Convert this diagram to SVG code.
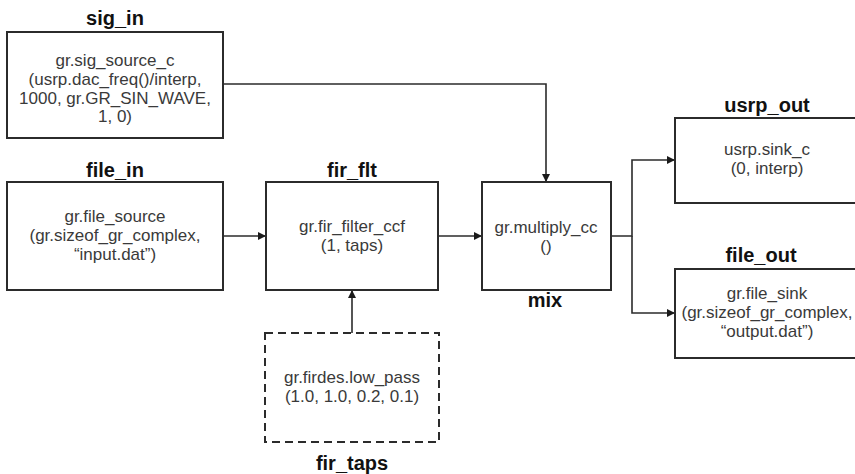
<svg xmlns="http://www.w3.org/2000/svg" width="855" height="474" viewBox="0 0 855 474">
  <style>
    .box { fill: #ffffff; stroke: #2b2b2b; stroke-width: 2; }
    .dash { stroke-dasharray: 8 5; }
    .body { font-family: "Liberation Sans", Arial, sans-serif; font-size: 17px; fill: #3a3a3a; text-anchor: middle; }
    .name { font-family: "Liberation Sans", Arial, sans-serif; font-size: 20px; font-weight: bold; fill: #111111; text-anchor: middle; }
    .wire { fill: none; stroke: #2b2b2b; stroke-width: 1.6; marker-end: url(#arrow); }
  </style>
  <defs>
    <marker id="arrow" viewBox="0 0 10 10" refX="10" refY="5" markerWidth="8" markerHeight="8" markerUnits="userSpaceOnUse" orient="auto">
      <path d="M0,0 L10,5 L0,10 Z" fill="#1a1a1a"/>
    </marker>
  </defs>
  <rect width="855" height="474" fill="#ffffff"/>

  <g id="connectors">
    <path class="wire" d="M223,84 H546 V182"/>
    <path class="wire" d="M223,236 H266"/>
    <path class="wire" d="M438,236 H482"/>
    <path class="wire" d="M611,236 H632 V160 H675"/>
    <path class="wire" d="M632,236 V313 H675"/>
    <path class="wire" d="M352,333 V290"/>
  </g>

  <g id="sig_in">
    <text class="name" x="115" y="25">sig_in</text>
    <rect class="box" x="7" y="32" width="216" height="106"/>
    <text class="body" x="115" y="66">gr.sig_source_c</text>
    <text class="body" x="115" y="85">(usrp.dac_freq()/interp,</text>
    <text class="body" x="115" y="104">1000, gr.GR_SIN_WAVE,</text>
    <text class="body" x="115" y="122">1, 0)</text>
  </g>

  <g id="file_in">
    <text class="name" x="115" y="177">file_in</text>
    <rect class="box" x="7" y="182" width="216" height="108"/>
    <text class="body" x="115" y="222">gr.file_source</text>
    <text class="body" x="115" y="241">(gr.sizeof_gr_complex,</text>
    <text class="body" x="115" y="260">“input.dat”)</text>
  </g>

  <g id="fir_flt">
    <text class="name" x="352" y="177">fir_flt</text>
    <rect class="box" x="266" y="182" width="172" height="108"/>
    <text class="body" x="352" y="232">gr.fir_filter_ccf</text>
    <text class="body" x="352" y="251">(1, taps)</text>
  </g>

  <g id="mix">
    <rect class="box" x="482" y="182" width="129" height="108"/>
    <text class="body" x="546" y="233">gr.multiply_cc</text>
    <text class="body" x="546" y="252">()</text>
    <text class="name" x="545" y="307">mix</text>
  </g>

  <g id="usrp_out">
    <text class="name" x="767" y="112">usrp_out</text>
    <rect class="box" x="675" y="118" width="190" height="85"/>
    <text class="body" x="767" y="155">usrp.sink_c</text>
    <text class="body" x="767" y="174">(0, interp)</text>
  </g>

  <g id="file_out">
    <text class="name" x="761" y="262">file_out</text>
    <rect class="box" x="675" y="269" width="190" height="89"/>
    <text class="body" x="767" y="299">gr.file_sink</text>
    <text class="body" x="767" y="318">(gr.sizeof_gr_complex,</text>
    <text class="body" x="767" y="337">“output.dat”)</text>
  </g>

  <g id="fir_taps">
    <rect class="box dash" x="265" y="333" width="174" height="109"/>
    <text class="body" x="352" y="383">gr.firdes.low_pass</text>
    <text class="body" x="352" y="402">(1.0, 1.0, 0.2, 0.1)</text>
    <text class="name" x="352" y="470">fir_taps</text>
  </g>
</svg>
